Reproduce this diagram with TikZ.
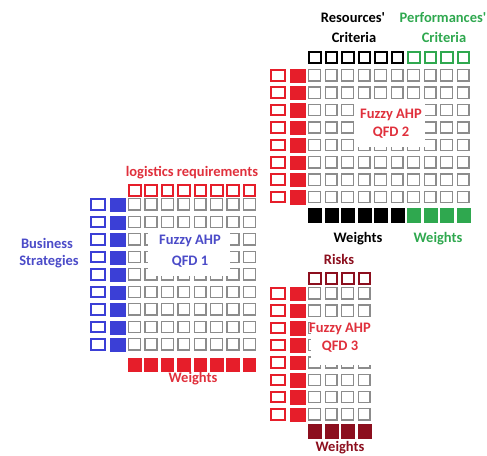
\documentclass[tikz,border=0pt]{standalone}
\usepackage{fontspec}
\setmainfont{Carlito}
\definecolor{cellgray}{HTML}{8C8C8C}
\definecolor{qblue}{HTML}{3B3FD6}
\definecolor{qred}{HTML}{E61E2A}
\definecolor{qgreen}{HTML}{2FA84F}
\definecolor{qdark}{HTML}{8C0F1E}
\definecolor{tblue}{HTML}{4B4BC8}
\definecolor{tred}{HTML}{E0303C}
\begin{document}
\begin{tikzpicture}[x=1pt,y=-1pt,
  cell/.style={draw=cellgray, line width=1.3pt, fill=white},
  hdr/.style={draw=#1, line width=2pt, fill=white},
  lbl/.style={font=\fontsize{14.5}{16}\selectfont\bfseries, text=#1, inner sep=0pt, align=center},
  cover/.style={fill=white, draw=none}]
\useasboundingbox (0,0) rectangle (487,455);

% ---------------- QFD 1 ----------------
\foreach \j in {0,...,8}{
  \draw[hdr=qblue] ({91},{199+17.5*\j}) rectangle ++(14,10.5);
  \fill[qblue] ({110},{198+17.5*\j}) rectangle ++(15.5,14);
  \foreach \i in {0,...,7}
    \draw[cell] ({128.7+16.4*\i},{198.7+17.5*\j}) rectangle ++(11.8,11.2);
}
\foreach \i in {0,...,7}{
  \draw[hdr=qred] ({129+16.4*\i},{185}) rectangle ++(11.5,10.5);
  \fill[qred] ({128+16.4*\i},{358}) rectangle ++(13.5,14);
}
\fill[cover] (148,229) rectangle (230,276);
\node[lbl=tblue] (q1a) at (190,241) {Fuzzy AHP};
\node[lbl=tblue] (q1b) at (190,262) {QFD 1};
\node[lbl=tred] (lreq) at (192,173) {logistics requirements};
\node[lbl=tblue] (bs1) at (47,243) {Business};
\node[lbl=tblue] (bs2) at (49,262) {Strategies};
\node[lbl=tred] (w1) at (193,379) {Weights};

% ---------------- QFD 2 ----------------
\foreach \j in {0,...,7}{
  \draw[hdr=qred] ({271},{70+17.4*\j}) rectangle ++(13.5,10.5);
  \fill[qred] ({290},{68.5+17.4*\j}) rectangle ++(15.5,14.5);
  \foreach \i in {0,...,9}
    \draw[cell] ({308.7+16.5*\i},{69.7+17.4*\j}) rectangle ++(11.8,11.2);
}
\foreach \i in {0,...,5}{
  \draw[hdr=black] ({309+16.5*\i},{52}) rectangle ++(11.5,11);
  \fill[black] ({308+16.5*\i},{207.5}) rectangle ++(14,15);
}
\foreach \i in {6,...,9}{
  \draw[hdr=qgreen] ({309+16.5*\i},{52}) rectangle ++(11.5,11);
  \fill[qgreen] ({308+16.5*\i},{207.5}) rectangle ++(14,15);
}
\fill[cover] (357,101) rectangle (425,147);
\node[lbl=tred] (q2a) at (391,115) {Fuzzy AHP};
\node[lbl=tred] (q2b) at (391,133) {QFD 2};
\node[lbl=black] (rc1) at (353,18) {Resources\textquotesingle};
\node[lbl=black] (rc2) at (354,37) {Criteria};
\node[lbl=qgreen] (pc1) at (443,18) {Performances\textquotesingle};
\node[lbl=qgreen] (pc2) at (444,37) {Criteria};
\node[lbl=black] (w2) at (358,239) {Weights};
\node[lbl=qgreen] (w3) at (438,239) {Weights};

% ---------------- QFD 3 ----------------
\foreach \j in {0,...,7}{
  \draw[hdr=qred] ({271},{288+17.3*\j}) rectangle ++(13.5,10.5);
  \fill[qred] ({290},{286.5+17.3*\j}) rectangle ++(15.5,14.5);
  \foreach \i in {0,...,3}
    \draw[cell] ({308.7+16.5*\i},{287.7+17.3*\j}) rectangle ++(11.8,11.2);
}
\foreach \i in {0,...,3}{
  \draw[hdr=qdark] ({309+16.5*\i},{273}) rectangle ++(11.5,10.5);
  \fill[qdark] ({308+16.5*\i},{424}) rectangle ++(14,14.5);
}
\fill[cover] (311,320) rectangle (373,365);
\node[lbl=tred] (q3a) at (340,329) {Fuzzy AHP};
\node[lbl=tred] (q3b) at (340,347) {QFD 3};
\node[lbl=qdark] (rk) at (339,259) {Risks};
\node[lbl=qdark] (w4) at (340,448) {Weights};
\end{tikzpicture}
\end{document}
